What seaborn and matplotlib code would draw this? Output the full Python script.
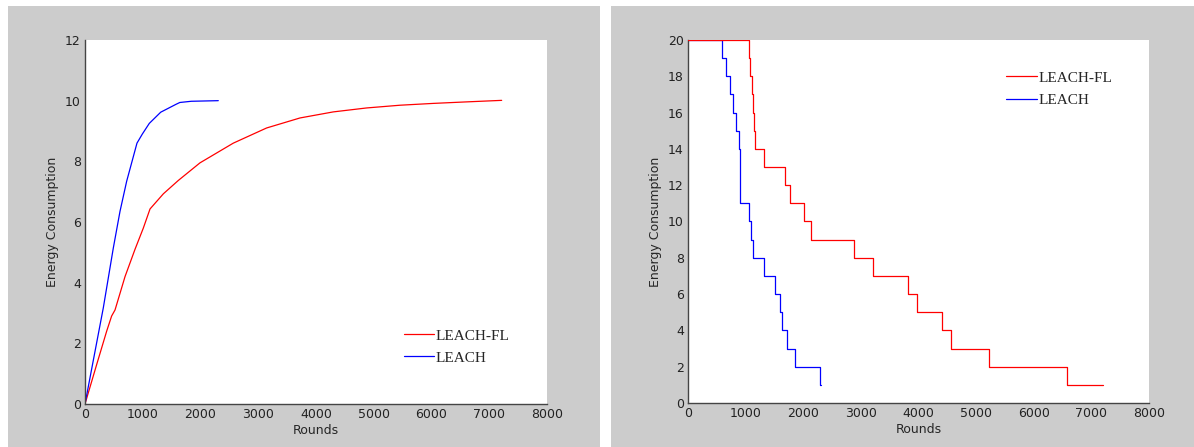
import matplotlib
matplotlib.use('Agg')
import matplotlib.pyplot as plt
import seaborn as sns

# left: energy consumption vs rounds
fl_rounds = [0, 202, 375, 461, 520, 693, 866, 1010, 1126, 1357, 1616, 1991,
             2568, 3145, 3723, 4300, 4877, 5455, 6032, 6609, 7215]
fl_energy = [0, 1.3, 2.4, 2.9, 3.1, 4.2, 5.1, 5.8, 6.43, 6.93, 7.37, 7.95,
             8.6, 9.1, 9.43, 9.63, 9.76, 9.85, 9.91, 9.96, 10.01]
leach_rounds = [0, 317, 490, 606, 721, 900, 993, 1113, 1311, 1576, 1642, 1841, 2308]
leach_energy = [0, 3.17, 5.14, 6.35, 7.34, 8.6, 8.9, 9.25, 9.62, 9.88, 9.94, 9.98, 10.0]

# right: step data
fl_step_rounds = [0, 1051, 1084, 1103, 1123, 1143, 1169, 1314, 1681, 1773, 2010, 2141, 2877, 3205, 3816, 3967, 4401, 4558, 5215, 6580, 7200]
fl_step_vals = [20, 19, 18, 17, 16, 15, 14, 13, 12, 11, 10, 9, 8, 7, 6, 5, 4, 3, 2, 1, 1]
leach_step_rounds = [0, 591, 663, 722, 775, 841, 887, 906, 1051, 1090, 1136, 1327, 1511, 1603, 1635, 1714, 1865, 2286, 2305]
leach_step_vals = [20, 19, 18, 17, 16, 15, 14, 11, 10, 9, 8, 7, 6, 5, 4, 3, 2, 1, 1]

sns.set_style('white')
plt.rcParams['font.family'] = ['DejaVu Sans']

fig = plt.figure(figsize=(11.94, 4.47), dpi=100)
fig.patch.set_facecolor('white')
# grey panels behind each axes
fig.patches.append(plt.Rectangle((8/1194, 0), (600-8)/1194, 1-6/447, transform=fig.transFigure,
                                 facecolor='#cccccc', edgecolor='none', zorder=-10))
fig.patches.append(plt.Rectangle((611/1194, 0), (1194-611)/1194, 1-6/447, transform=fig.transFigure,
                                 facecolor='#cccccc', edgecolor='none', zorder=-10))

ax1 = fig.add_axes([85/1194, 1-404/447, 462/1194, 364/447])
ax2 = fig.add_axes([688/1194, 1-403/447, 461/1194, 363/447])

sns.lineplot(x=fl_rounds, y=fl_energy, ax=ax1, color='red', linewidth=0.9, label='LEACH-FL')
sns.lineplot(x=leach_rounds, y=leach_energy, ax=ax1, color='blue', linewidth=0.9, label='LEACH')
ax1.set_ylim(0, 12)
ax1.set_yticks(range(0, 13, 2))

sns.lineplot(x=leach_step_rounds, y=leach_step_vals, ax=ax2, color='blue', linewidth=0.9,
             drawstyle='steps-post', label='LEACH', zorder=2)
sns.lineplot(x=fl_step_rounds, y=fl_step_vals, ax=ax2, color='red', linewidth=0.9,
             drawstyle='steps-post', label='LEACH-FL', zorder=3)
ax2.set_ylim(0, 20)
ax2.set_yticks(range(0, 21, 2))

for ax in (ax1, ax2):
    ax.set_facecolor('white')
    ax.set_xlim(0, 8000)
    ax.set_xticks(range(0, 8001, 1000))
    ax.set_xlabel('Rounds', fontsize=9, labelpad=2)
    ax.set_ylabel('Energy Consumption', fontsize=9, labelpad=4)
    ax.tick_params(direction='in', length=4, width=0.8, labelsize=9, colors='#222222', pad=3)
    for s in ('top', 'right'):
        ax.spines[s].set_visible(False)
    for s in ('left', 'bottom'):
        ax.spines[s].set_color('#444444')
        ax.spines[s].set_linewidth(1.0)

def add_legend(ax, anchor):
    h, l = ax.get_legend_handles_labels()
    order = [l.index('LEACH-FL'), l.index('LEACH')]
    ax.legend([h[i] for i in order], [l[i] for i in order], loc='center left', bbox_to_anchor=anchor,
              frameon=False, borderaxespad=0, borderpad=0, handlelength=2.0, handletextpad=0.1,
              labelspacing=0.55, prop={'family': 'Liberation Serif', 'size': 11})

add_legend(ax1, (0.69, 0.157))
add_legend(ax2, (0.69, 0.865))

fig.savefig('out.png', dpi=100)
